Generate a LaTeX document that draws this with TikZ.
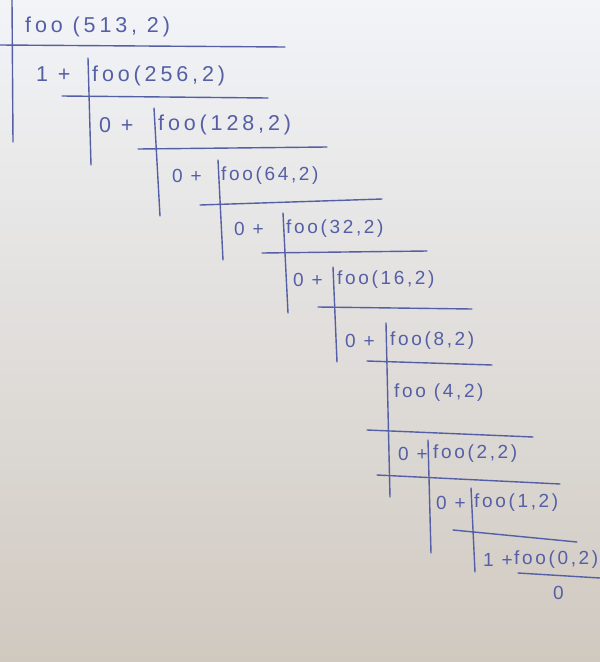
\documentclass[tikz,border=0pt]{standalone}
\usepackage{fontspec}
\setmainfont{Liberation Sans}
\newfontfamily\hand[LetterSpace=14]{Liberation Sans}
\newfontfamily\handbig[LetterSpace=18]{Liberation Sans}
\definecolor{ink}{RGB}{85,95,165}
\definecolor{paperTop}{RGB}{242,244,248}
\definecolor{paperBot}{RGB}{208,201,192}
\begin{document}
\begin{tikzpicture}[x=1pt,y=-1pt,
  pen/.style={draw=ink, line width=1.4pt, line cap=round},
  hw/.style={text=ink, anchor=west, inner sep=0pt, font=\hand\fontsize{19}{21}\selectfont},
  hwbig/.style={text=ink, anchor=west, inner sep=0pt, font=\handbig\fontsize{21.5}{24}\selectfont}]
\useasboundingbox (0,0) rectangle (600,662);
\shade[top color=paperTop, bottom color=paperBot] (0,0) rectangle (600,662);
% texts
\node[hwbig] (t0) at (25,27) {foo (513, 2)};
\node[hwbig] (p1) at (36,74) {1 +};
\node[hwbig] (t1) at (92,76) {foo(256,2)};
\node[hwbig] (p2) at (99,125) {0 +};
\node[hwbig] (t2) at (158,125) {foo(128,2)};
\node[hw] (p3) at (172,176) {0 +};
\node[hw] (t3) at (221,176) {foo(64,2)};
\node[hw] (p4) at (234,229) {0 +};
\node[hw] (t4) at (286,229) {foo(32,2)};
\node[hw] (p5) at (293,280) {0 +};
\node[hw] (t5) at (337,280) {foo(16,2)};
\node[hw] (p6) at (345,341) {0 +};
\node[hw] (t6) at (390,341) {foo(8,2)};
\node[hw] (t7) at (394,393) {foo (4,2)};
\node[hw] (p8) at (398,454) {0 +};
\node[hw] (t8) at (433,454) {foo(2,2)};
\node[hw] (p9) at (436,503) {0 +};
\node[hw] (t9) at (474,503) {foo(1,2)};
\node[hw] (p10) at (483,560) {1 +};
\node[hw] (t10) at (514,560) {foo(0,2)};
\node[hw] (t11) at (553,593) {0};
% vertical bars
\draw[pen] (12,0) -- (13,142);
\draw[pen] (88,58) -- (91,165);
\draw[pen] (154,108) -- (160,216);
\draw[pen] (218,160) -- (223,260);
\draw[pen] (283,213) -- (288,313);
\draw[pen] (333,267) -- (337,362);
\draw[pen] (386,323) -- (390,497);
\draw[pen] (428,440) -- (431,553);
\draw[pen] (471,488) -- (475,572);
% horizontal bars
\draw[pen] (0,45) -- (285,47);
\draw[pen] (62,96) -- (268,98);
\draw[pen] (138,149) -- (327,147);
\draw[pen] (200,205) -- (382,199);
\draw[pen] (262,253) -- (427,251);
\draw[pen] (318,307) -- (472,309);
\draw[pen] (367,361) -- (492,365);
\draw[pen] (367,430) -- (533,437);
\draw[pen] (377,475) -- (560,484);
\draw[pen] (453,530) -- (577,542);
\draw[pen] (518,573) -- (600,578);
\end{tikzpicture}
\end{document}
